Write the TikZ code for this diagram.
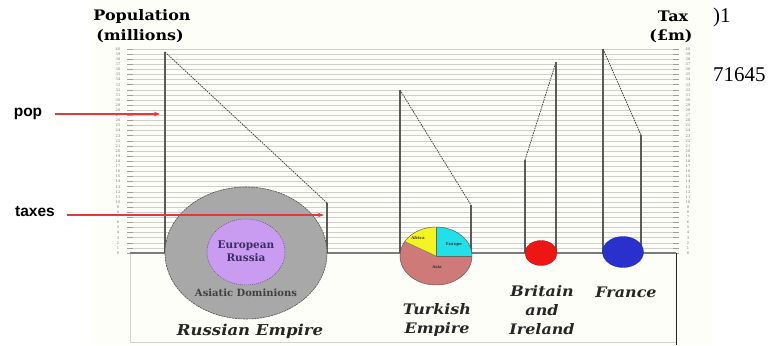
\documentclass[tikz,border=0pt]{standalone}
\usepackage{fontspec}
\setmainfont{DejaVu Serif}
\newfontfamily\headfont[FakeStretch=1.1]{DejaVu Serif}
\newfontfamily\tnr{Liberation Serif}
\newfontfamily\sansb{Liberation Sans}
\usetikzlibrary{arrows.meta,shapes.geometric}
\definecolor{gridc}{HTML}{CFCFCF}
\definecolor{barc}{HTML}{5A5A5A}
\definecolor{arrowred}{HTML}{E03A3A}
\definecolor{rusgray}{HTML}{A8A8A8}
\definecolor{ruspurple}{HTML}{C99CF2}
\definecolor{navytext}{HTML}{3A2C66}
\definecolor{piecyan}{HTML}{22E0E8}
\definecolor{pieyellow}{HTML}{F4F422}
\definecolor{pieasia}{HTML}{CD7A78}
\definecolor{brred}{HTML}{EE1515}
\definecolor{frblue}{HTML}{2A30CC}
\definecolor{cream}{HTML}{FEFEF9}
\tikzset{
  ticklab/.style={font=\fontsize{3.6}{3.6}\selectfont, text=black!55, inner sep=0pt},
  barline/.style={draw=barc, line width=1.1pt},
  bardash/.style={draw=black!75, line width=0.8pt, dash pattern=on 1.5pt off 1pt},
  head/.style={font=\headfont\bfseries\fontsize{14.5}{17}\selectfont, inner sep=0pt, align=center},
  country/.style={font=\headfont\bfseries\itshape\fontsize{14.5}{19}\selectfont, inner sep=0pt, align=center, text=black!85},
  redarrow/.style={draw=arrowred, line width=1.4pt, -{Stealth[length=6pt,width=4.5pt]}},
  sidelab/.style={font=\sansb\bfseries\fontsize{15.5}{17}\selectfont, inner sep=0pt},
  pielab/.style={font=\bfseries\fontsize{4}{4}\selectfont, inner sep=0pt, text=black!80},
  blob/.style={ellipse, inner sep=0pt}
}
\begin{document}
\begin{tikzpicture}[x=1pt,y=-1pt]
\useasboundingbox (0,0) rectangle (770,345);
\fill[white] (0,0) rectangle (770,345);
\fill[cream] (92,0) rectangle (712,345);

% grid and scales
\foreach \i in {0,...,40} {
  \pgfmathsetmacro\yy{253-5.1*\i}
  \draw[gridc, line width=0.5pt] (127,\yy) -- (679,\yy);
  \draw[gray!75, line width=0.5pt] (127,\yy) -- (133,\yy);
  \draw[gray!75, line width=0.5pt] (673,\yy) -- (679,\yy);
  \node[ticklab] (l\i) at (118,\yy) {\i};
  \node[ticklab] (r\i) at (688,\yy) {\i};
}

% bottom frame
\coordinate (bl) at (130,253);
\coordinate (br) at (676,253);
\coordinate (bll) at (130,342);
\coordinate (brl) at (676,342);
\coordinate (brb) at (676,345);
\draw[gray!35, line width=0.6pt] (bl) -- (bll) -- (brl);
\draw[black!85, line width=0.9pt] (br) -- (brb);
\draw[barc!80, line width=1.2pt] (bl) -- (br);

% headings
\node[head] (pophead) at (142,17) {Population};
\node[head] (popunit) at (140,36) {(millions)};
\node[head] (taxhead) at (673,16) {Tax};
\node[head] (taxunit) at (671,36) {(£m)};

% stray text fragments
\node[font=\tnr\fontsize{21}{21}\selectfont, inner sep=0pt, anchor=west] (frag1) at (713,17) {)1};
\node[font=\tnr\fontsize{21}{21}\selectfont, inner sep=0pt, anchor=west] (frag2) at (713,75) {71645};

% Russia bar
\coordinate (ra) at (165,253); \coordinate (rb) at (165,52);
\coordinate (rc) at (327,203); \coordinate (rd) at (327,253);
\draw[barline] (ra) -- (rb); \draw[bardash] (rb) -- (rc); \draw[barline] (rc) -- (rd);

% Turkey bar
\coordinate (ta) at (400,253); \coordinate (tb) at (400,90);
\coordinate (tc) at (471,205); \coordinate (td) at (471,253);
\draw[barline] (ta) -- (tb); \draw[bardash] (tb) -- (tc); \draw[barline] (tc) -- (td);

% Britain bar
\coordinate (ba) at (525,253); \coordinate (bb) at (525,160);
\coordinate (bc) at (556,62); \coordinate (bd) at (556,253);
\draw[barline] (ba) -- (bb); \draw[bardash] (bb) -- (bc); \draw[barline] (bc) -- (bd);

% France bar
\coordinate (fa) at (603,253); \coordinate (fb) at (603,49);
\coordinate (fc) at (641,135); \coordinate (fd) at (641,253);
\draw[barline] (fa) -- (fb); \draw[bardash] (fb) -- (fc); \draw[barline] (fc) -- (fd);

% Russian Empire
\node[blob, minimum width=162pt, minimum height=132pt, fill=rusgray, draw=gray!60!black, line width=0.6pt, dash pattern=on 2pt off 0.8pt] (rus) at (246,253) {};
\node[blob, minimum width=78pt, minimum height=66pt, fill=ruspurple, draw=ruspurple!50!black, line width=0.5pt, dash pattern=on 1pt off 1pt] (eur) at (246,252) {};
\node[font=\bfseries\fontsize{10.5}{13}\selectfont, align=center, text=navytext, inner sep=0pt] (eurlab) at (246,251) {European\\Russia};
\node[font=\bfseries\fontsize{10}{11}\selectfont, text=black!75, inner sep=0pt] (asialab) at (246,293) {Asiatic Dominions};
\node[country, font=\headfont\bfseries\itshape\fontsize{15}{19}\selectfont] (rusname) at (250,331) {Russian Empire};

% Turkish Empire pie
\coordinate (pc) at (436,256);
\fill[pieasia] (pc) -- ++(36,0) arc[start angle=0, end angle=210, x radius=36, y radius=29] -- cycle;
\fill[piecyan] (pc) -- ++(36,0) arc[start angle=0, end angle=-90, x radius=36, y radius=29] -- cycle;
\fill[pieyellow] (pc) -- ++(0,-29) arc[start angle=-90, end angle=-150, x radius=36, y radius=29] -- cycle;
\draw[gray!60!black, line width=0.4pt] (pc) ellipse[x radius=36, y radius=29];
\draw[black!60, line width=0.4pt] (pc) -- ++(36,0);
\draw[black!60, line width=0.4pt] (pc) -- ++(0,-29);
\draw[black!60, line width=0.4pt] (pc) -- ++(-31.2,-14.5);
\node[pielab] (afr) at (418,238) {Africa};
\node[pielab] (eurp) at (454,244) {Europe};
\node[pielab] (asp) at (437,267) {Asia};
\node[country] (turname) at (437,320) {Turkish\\Empire};

% Britain and Ireland
\node[blob, minimum width=32pt, minimum height=25pt, fill=brred, draw=brred!70!black, line width=0.3pt] (brit) at (541,253) {};
\node[country] (britname) at (542,310) {Britain\\and\\Ireland};

% France
\node[blob, minimum width=41pt, minimum height=31pt, fill=frblue, draw=frblue!70!black, line width=0.3pt] (fra) at (623,252) {};
\node[country] (franame) at (626,292) {France};

% side labels and red arrows
\node[sidelab] (pop) at (28,114) {pop};
\coordinate (popend) at (160,114);
\draw[redarrow] ([xshift=13pt]pop.east) -- (popend);
\node[sidelab] (tax) at (35,212) {taxes};
\coordinate (taxend) at (324,215);
\draw[redarrow] ([xshift=12pt]tax.east |- taxend) -- (taxend);
\end{tikzpicture}
\end{document}
